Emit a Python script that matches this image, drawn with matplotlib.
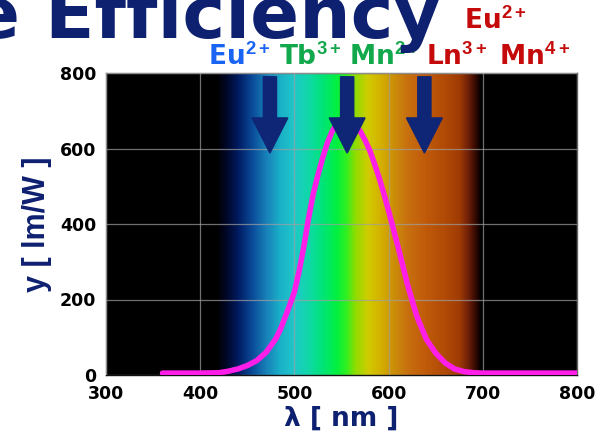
import numpy as np
import matplotlib
matplotlib.use("Agg")
import matplotlib.pyplot as plt
from matplotlib.colors import LinearSegmentedColormap

# Luminous efficacy curve
wavelength_nm = [360, 400, 420, 430, 440, 450, 460, 470, 480, 485, 490, 495,
                 500, 505, 510, 515, 520, 525, 530, 535, 540, 545, 550, 555,
                 560, 565, 570, 575, 580, 585, 590, 595, 600, 610, 620, 630,
                 640, 650, 660, 670, 680, 690, 700, 750, 800]
efficacy_lm_w = [5, 5, 6, 10, 16, 25, 38, 60, 95, 120, 152, 185,
                 220, 275, 340, 415, 480, 530, 575, 615, 645, 665, 678, 683,
                 672, 662, 645, 622, 595, 560, 522, 480, 435, 340, 240, 155,
                 95, 58, 32, 16, 9, 6, 5, 5, 5]

x_ticks = [300, 400, 500, 600, 700, 800]
y_ticks = [0, 200, 400, 600, 800]

# Emission positions of activator ions (arrows)
activator_nm = [474, 556, 638]

# Ion labels: text, colour, left x (px), baseline y (px from top)
ion_labels = ["Eu$^{2+}$", "Tb$^{3+}$", "Mn$^{2+}$", "Ln$^{3+}$ Mn$^{4+}$", "Eu$^{2+}$"]
ion_colors = ["#1a64f4", "#12a84c", "#12a84c", "#c40a0a", "#c40a0a"]
ion_x_px = [208, 279, 349, 426, 464]
ion_y_px = [66, 66, 66, 66, 30]

# Visible-spectrum background colour stops (nm, colour)
spectrum_stops = [(300, "#000000"), (418, "#000000"), (428, "#000828"),
                  (440, "#001a60"), (455, "#0a4a98"), (470, "#1880b8"),
                  (485, "#1ab0c8"), (500, "#20c8c8"), (515, "#10d8a8"),
                  (530, "#00e478"), (545, "#00f040"), (555, "#30f020"),
                  (565, "#90dc00"), (578, "#d0cc00"), (592, "#d4b000"),
                  (605, "#cc9008"), (620, "#c87010"), (640, "#c05a0a"),
                  (660, "#b04a06"), (675, "#a03c04"), (685, "#702008"),
                  (693, "#300800"), (698, "#000000"), (800, "#000000")]

NAVY = "#0e2070"
W, H = 599, 432

plt.rcParams["font.family"] = ["DejaVu Sans"]
plt.rcParams["font.weight"] = "bold"
plt.rcParams["mathtext.fontset"] = "custom"
plt.rcParams["mathtext.rm"] = "Liberation Sans:bold"
plt.rcParams["mathtext.it"] = "Liberation Sans:bold"
plt.rcParams["mathtext.bf"] = "Liberation Sans:bold"
plt.rcParams["mathtext.default"] = "bf"

fig = plt.figure(figsize=(W / 100, H / 100), dpi=100)
fig.patch.set_facecolor("white")
ax = fig.add_axes([106 / W, 1 - 375 / H, (577 - 106) / W, (375 - 73) / H])

lo, hi = x_ticks[0], x_ticks[-1]
cmap = LinearSegmentedColormap.from_list(
    "spectrum", [((w - lo) / (hi - lo), c) for w, c in spectrum_stops], N=1024)
gradient = np.linspace(lo, hi, 1000)[None, :]
ax.imshow(gradient, extent=[lo, hi, y_ticks[0], y_ticks[-1]], aspect="auto",
          cmap=cmap, vmin=lo, vmax=hi, origin="lower", zorder=0,
          interpolation="bilinear")

ax.set_xlim(lo, hi)
ax.set_ylim(y_ticks[0], y_ticks[-1])
ax.set_xticks(x_ticks)
ax.set_yticks(y_ticks)
ax.grid(True, color="#a0a0a0", linewidth=0.9, alpha=0.7, zorder=1)
ax.set_axisbelow(False)

ax.plot(wavelength_nm, efficacy_lm_w, color="#ff1ee8", linewidth=4,
        solid_capstyle="round", solid_joinstyle="round", zorder=3)

for x in activator_nm:
    ax.arrow(x, 790, 0, -202, width=14, head_width=38, head_length=93,
             length_includes_head=True, color="#0f2575", zorder=5)

ax.tick_params(length=0, labelsize=12.5, pad=7)
for lbl in ax.get_xticklabels() + ax.get_yticklabels():
    lbl.set_fontweight("bold")
for s in ax.spines.values():
    s.set_color("#666666")
    s.set_linewidth(1)
ax.spines["bottom"].set_color("#111111")

ax.set_xlabel("λ [ nm ]", fontsize=19, fontweight="bold", color=NAVY, labelpad=2)
ax.set_ylabel("y [ lm/W ]", fontsize=22, fontweight="bold", color=NAVY,
              family="Liberation Sans", labelpad=6)

for text, col, xp, yp in zip(ion_labels, ion_colors, ion_x_px, ion_y_px):
    fig.text(xp / W, 1 - yp / H, text, color=col, fontsize=19,
             ha="left", va="baseline")

fig.text(-29 / W, 1 - 38 / H, "e Efficiency", color=NAVY, fontsize=52,
         fontweight="bold", ha="left", va="baseline")

fig.savefig("out.png", dpi=100)
